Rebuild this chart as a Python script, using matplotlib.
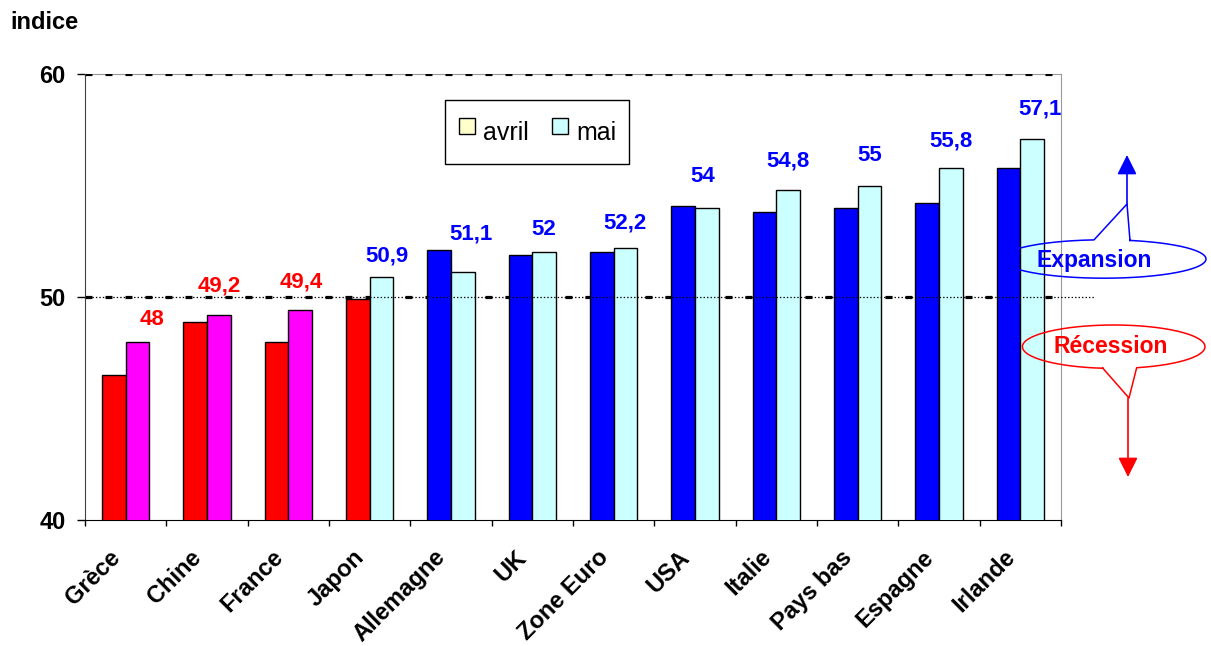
import numpy as np
import matplotlib.pyplot as plt
import matplotlib.transforms as mtransforms
from matplotlib.lines import Line2D

plt.rcParams['font.family'] = ['Liberation Sans', 'DejaVu Sans']
plt.rcParams['lines.scale_dashes'] = False

# Données : indices PMI avril / mai
pays = ['Grèce', 'Chine', 'France', 'Japon', 'Allemagne', 'UK', 'Zone Euro',
        'USA', 'Italie', 'Pays bas', 'Espagne', 'Irlande']
avril = [46.5, 48.9, 48.0, 49.9, 52.1, 51.9, 52.0, 54.1, 53.8, 54.0, 54.2, 55.8]
mai = [48.0, 49.2, 49.4, 50.9, 51.1, 52.0, 52.2, 54.0, 54.8, 55.0, 55.8, 57.1]
seuil = 50

# petits decalages des etiquettes (comme dans l'original)
label_dx = [15, 0, 1, 6, 8.5, 0, 0, -4, 0, 0, 0, 8]          # pixels
label_dy = [0.74, 1.03, 1.02, 0.68, 1.48, 0.76, 0.87, 1.17, 1.03, 1.12, 0.94, 1.07]

ROUGE, BLEU, MAGENTA, CYAN, JAUNE = '#FF0000', '#0000FF', '#FF00FF', '#CCFFFF', '#FFFFCC'

W, H = 1211, 646
fig = plt.figure(figsize=(W / 100, H / 100), dpi=100)
ax = fig.add_axes([85 / W, 1 - 520 / H, 976 / W, 446 / H])

x = np.arange(len(pays))
w = 0.289
col_avril = [ROUGE if v < seuil else BLEU for v in avril]
col_mai = [MAGENTA if v < seuil else CYAN for v in mai]
ax.bar(x - w / 2, avril, w, color=col_avril, edgecolor='black', linewidth=1, zorder=3)
ax.bar(x + w / 2, mai, w, color=col_mai, edgecolor='black', linewidth=1, zorder=3)

# etiquettes de mai
for i, v in enumerate(mai):
    txt = f'{v:g}'.replace('.', ',')
    ax.annotate(txt, xy=(x[i] + w / 2, v + label_dy[i]), xytext=(label_dx[i] * 0.72, 0),
                textcoords='offset points', ha='center', va='baseline',
                fontsize=16, fontweight='bold',
                color=ROUGE if v < seuil else BLEU, zorder=5)

# lignes 50 et 60
ax.axhline(50, color='black', lw=2.3, dashes=(5, 9.4), zorder=2)
ax.axhline(60, color='black', lw=2.3, dashes=(5, 9.4), zorder=2.6)
ax.axhline(50, xmin=0, xmax=1010 / 976, color='black', lw=0.9,
           linestyle=(0, (1, 1.5)), clip_on=False, zorder=4)

ax.set_xlim(-0.5, len(pays) - 0.5)
ax.set_ylim(40, 60)
ax.set_yticks([40, 50, 60])
ax.set_yticklabels(['40', '50', '60'], fontsize=17, fontweight='bold')
ax.tick_params(axis='y', length=5.8, width=1, pad=8, direction='out')

ax.set_xticks(x)
ax.set_xticklabels(pays, rotation=45, ha='right', va='top', rotation_mode='anchor',
                   fontsize=17, fontweight='bold')
ax.tick_params(axis='x', which='major', length=0, pad=18.5)
ax.set_xticks(np.arange(len(pays) + 1) - 0.5, minor=True)
ax.tick_params(axis='x', which='minor', length=4.3, width=1, direction='out')
decal = mtransforms.ScaledTranslation(-17 / 100, 0, fig.dpi_scale_trans)
for lab in ax.get_xticklabels():
    lab.set_transform(lab.get_transform() + decal)

ax.spines['left'].set_color('#404040')
ax.spines['bottom'].set_color('black')
ax.spines['top'].set_color('#999999')
ax.spines['right'].set_color('#999999')

# legende
poignees = [Line2D([], [], marker='s', ls='none', markersize=11, markerfacecolor=JAUNE,
                   markeredgecolor='black', markeredgewidth=1),
            Line2D([], [], marker='s', ls='none', markersize=11, markerfacecolor=CYAN,
                   markeredgecolor='black', markeredgewidth=1)]
leg = ax.legend(poignees, ['avril', 'mai'], ncol=2, loc='center',
                bbox_to_anchor=(537 / W, 1 - 132 / H), bbox_transform=fig.transFigure,
                fontsize=18, frameon=True, fancybox=False, edgecolor='black',
                framealpha=1, handlelength=0.7, handleheight=2.0, handletextpad=0.3,
                columnspacing=0.9, borderpad=0.5)
leg.set_zorder(6)

fig.text(10 / W, 1 - 29 / H, 'indice', fontsize=17, fontweight='bold', ha='left', va='baseline')

# bulles Expansion / Recession (en pixels)
ov = fig.add_axes([0, 0, 1, 1], zorder=10)
ov.set_xlim(0, W)
ov.set_ylim(H, 0)
ov.axis('off')
ov.patch.set_alpha(0)


def bulle(cx, cy, a, b, pa, pointe, pb, couleur):
    ta = np.arctan2((pa[1] - cy) / b, (pa[0] - cx) / a)
    tb = np.arctan2((pb[1] - cy) / b, (pb[0] - cx) / a)
    lo, hi = min(ta, tb), max(ta, tb)
    t = np.linspace(hi, lo + 2 * np.pi, 300)
    xs = list(cx + a * np.cos(t)) + [pointe[0], cx + a * np.cos(hi)]
    ys = list(cy + b * np.sin(t)) + [pointe[1], cy + b * np.sin(hi)]
    ov.plot(xs, ys, color=couleur, lw=1.1)


bulle(1104, 259, 102, 19.2, (1093, 238), (1127, 204), (1132, 239), BLEU)
bulle(1113.7, 346.7, 91.3, 21.7, (1103, 368), (1129, 398), (1137, 368), ROUGE)

ov.annotate('', xy=(1127, 155), xytext=(1127, 205),
            arrowprops=dict(arrowstyle='-|>,head_length=0.6,head_width=0.3', color=BLEU,
                            lw=1.2, shrinkA=0, shrinkB=0, mutation_scale=20))
ov.annotate('', xy=(1128, 477), xytext=(1128, 398),
            arrowprops=dict(arrowstyle='-|>,head_length=0.6,head_width=0.3', color=ROUGE,
                            lw=1.2, shrinkA=0, shrinkB=0, mutation_scale=20))

ov.text(1094.5, 266.7, 'Expansion', color=BLEU, fontsize=16.5, fontweight='bold',
        ha='center', va='baseline')
ov.text(1110.5, 353.3, 'Récession', color=ROUGE, fontsize=16.5, fontweight='bold',
        ha='center', va='baseline')

fig.savefig('out.png', dpi=100)
